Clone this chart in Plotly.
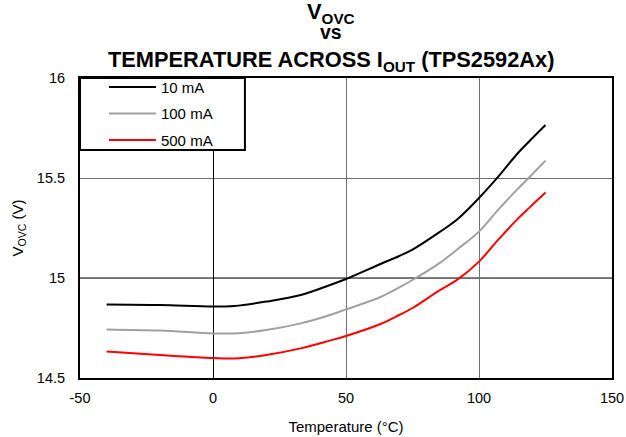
import plotly.graph_objects as go

temp_c = [-40, -20, 0, 8, 20, 33, 44, 50, 63, 70, 75, 85, 92, 100, 107, 114, 119, 125]
v_10ma = [14.868, 14.865, 14.857, 14.86, 14.882, 14.915, 14.965, 14.995, 15.07, 15.11, 15.142, 15.228, 15.295, 15.4, 15.503, 15.615, 15.685, 15.765]
v_100ma = [14.743, 14.737, 14.723, 14.723, 14.74, 14.773, 14.815, 14.843, 14.905, 14.953, 14.99, 15.073, 15.145, 15.232, 15.338, 15.438, 15.505, 15.587]
v_500ma = [14.632, 14.615, 14.6, 14.598, 14.615, 14.648, 14.687, 14.71, 14.77, 14.815, 14.85, 14.937, 14.993, 15.082, 15.188, 15.288, 15.352, 15.427]

series_names = ["10 mA", "100 mA", "500 mA"]
series_vals = [v_10ma, v_100ma, v_500ma]
series_colors = ["#000000", "#a0a0a0", "#ff0000"]

x_ticks = [-50, 0, 50, 100, 150]
x_ticktext = ["-50", "0", "50", "100", "150"]
y_ticks = [14.5, 15, 15.5, 16]
y_ticktext = ["14.5", "15", "15.5", "16"]

FONT = "Arial, Liberation Sans, sans-serif"

fig = go.Figure()
for i, (name, vals, col) in enumerate(zip(series_names, series_vals, series_colors)):
    fig.add_trace(go.Scatter(x=temp_c, y=vals, mode="lines", name=name, legendgroup=f"g{i}",
                             line=dict(color=col, width=2, shape="spline", smoothing=1.0)))

# black reference line at 15 V (grid line drawn darker in the original)
fig.add_hline(y=15, line=dict(color="black", width=1), layer="below")

# legend frame
fig.add_shape(type="rect", xref="paper", yref="paper", x0=0, x1=0.31, y0=0.76, y1=1,
              line=dict(color="black", width=2), fillcolor="white", layer="above")

axis_common = dict(showline=True, linecolor="black", linewidth=2, mirror=True,
                   showgrid=True, gridcolor="#707070", gridwidth=1, automargin=False,
                   ticks="", tickfont=dict(family=FONT, size=14.5, color="black"))

title_font = dict(family=FONT, size=21.8, color="black")
tx = 0.472
fig.add_annotation(text="<b>V<sub>OVC</sub></b>", xref="paper", yref="paper",
                   x=tx, y=1 + (78 - 12.5) / 300, xanchor="center", yanchor="middle",
                   showarrow=False, font=title_font)
fig.add_annotation(text="<b>vs</b>", xref="paper", yref="paper",
                   x=tx, y=1 + (78 - 32) / 300, xanchor="center", yanchor="middle",
                   showarrow=False, font=dict(family=FONT, size=19.5, color="black"))
fig.add_annotation(text="<b>TEMPERATURE ACROSS I<sub>OUT</sub> (TPS2592Ax)</b>", xref="paper", yref="paper",
                   x=tx, y=1 + (78 - 61) / 300, xanchor="center", yanchor="middle",
                   showarrow=False, font=title_font)

fig.update_layout(
    template="none",
    width=626, height=437,
    margin=dict(l=80, r=14, t=78, b=59),
    paper_bgcolor="white", plot_bgcolor="white",
    font=dict(family=FONT, color="black"),
    xaxis=dict(range=[-50, 150], tickvals=x_ticks, ticktext=x_ticktext,
               zeroline=True, zerolinecolor="black", zerolinewidth=1,
               ticklabelstandoff=6,
               title=dict(text="Temperature (°C)", font=dict(family=FONT, size=15), standoff=16),
               **axis_common),
    yaxis=dict(range=[14.5, 16], tickvals=y_ticks, ticktext=y_ticktext, ticklabelstandoff=10,
               zeroline=False,
               title=dict(text="V<sub>OVC</sub> (V)", font=dict(family=FONT, size=15), standoff=10),
               **axis_common),
    legend=dict(x=0.045, y=1.024, xanchor="left", yanchor="top", bgcolor="rgba(0,0,0,0)",
                borderwidth=0, font=dict(family=FONT, size=15),
                tracegroupgap=4, itemwidth=47),
    showlegend=True,
)

fig.write_html("out.html")
